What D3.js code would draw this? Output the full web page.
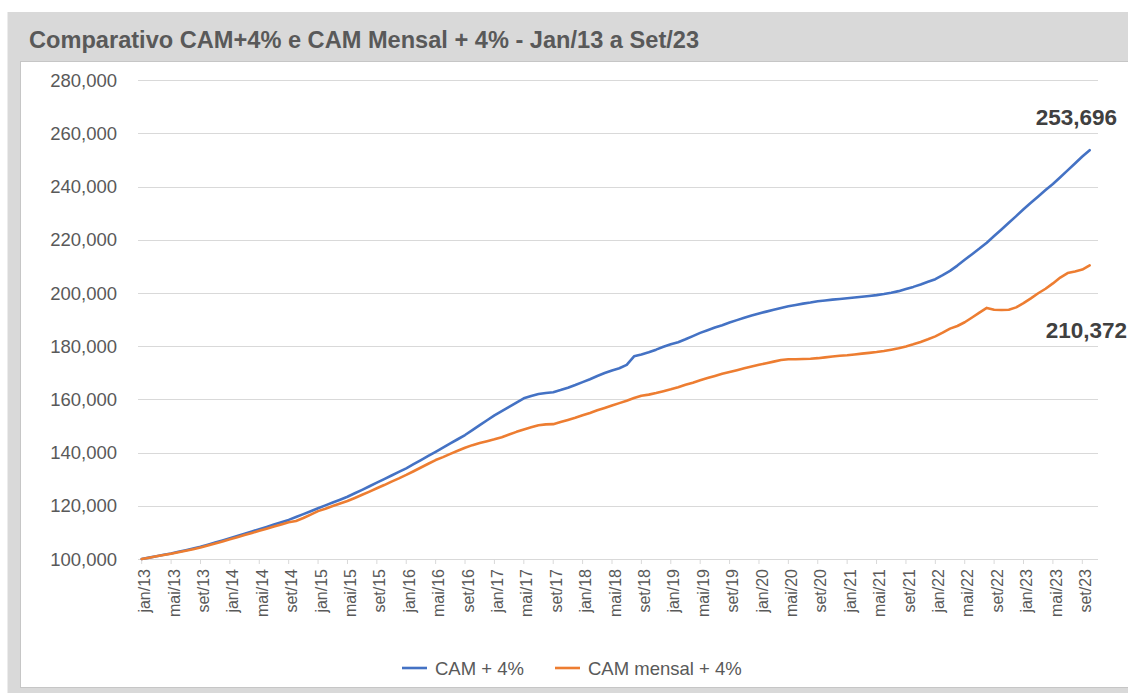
<!DOCTYPE html>
<html>
<head>
<meta charset="utf-8">
<script src="https://cdn.jsdelivr.net/npm/d3@7"></script>
<style>
  html, body { margin: 0; padding: 0; background: #ffffff; }
  svg { display: block; font-family: "Liberation Sans", Arial, sans-serif; }
</style>
</head>
<body>
<svg id="chart" width="1128" height="693"></svg>
<script>
// ---- Data ----
const months = ["jan","fev","mar","abr","mai","jun","jul","ago","set","out","nov","dez"];
const startYear = 13;
const yTicks = [100000, 120000, 140000, 160000, 180000, 200000, 220000, 240000, 260000, 280000];
const seriesNames = ["CAM + 4%", "CAM mensal + 4%"];
const seriesColors = ["#4472C4", "#ED7D31"];

const camValues = [
  // 2013
  100000, 100520, 101050, 101570, 102100, 102700, 103300, 103950, 104600, 105380, 106170, 106980,
  // 2014
  107800, 108640, 109480, 110340, 111200, 112070, 112940, 113820, 114700, 115780, 116870, 117980,
  // 2015
  119100, 120150, 121220, 122300, 123400, 124700, 126000, 127350, 128700, 130030, 131380, 132740,
  // 2016
  134100, 135630, 137170, 138730, 140300, 141870, 143440, 145020, 146600, 148450, 150300, 152150,
  // 2017
  154000, 155600, 157200, 158800, 160400, 161300, 162000, 162400, 162700, 163500, 164400, 165400,
  // 2018
  166500, 167600, 168800, 169900, 170900, 171700, 173000, 176200, 176900, 177700, 178700, 179800,
  // 2019
  180700, 181500, 182600, 183800, 185000, 186000, 187000, 187900, 188900, 189800, 190700, 191500,
  // 2020
  192300, 193000, 193700, 194400, 195000, 195500, 196000, 196400, 196900, 197200, 197500, 197750,
  // 2021
  198000, 198300, 198600, 198900, 199200, 199600, 200100, 200700, 201500, 202300, 203200, 204200,
  // 2022
  205200, 206700, 208300, 210300, 212500, 214600, 216700, 218900, 221400, 223900, 226400, 228900,
  // 2023
  231500, 233900, 236300, 238700, 241000, 243500, 246100, 248700, 251300, 253696
];

const camMensalValues = [
  // 2013
  100000, 100500, 101000, 101500, 102000, 102550, 103120, 103700, 104300, 105050, 105800, 106600,
  // 2014
  107400, 108200, 109000, 109800, 110600, 111400, 112200, 113000, 113800, 114300, 115400, 116700,
  // 2015
  118000, 118900, 119900, 120850, 121800, 122950, 124150, 125350, 126600, 127800, 129100, 130300,
  // 2016
  131600, 133000, 134400, 135800, 137200, 138300, 139500, 140700, 141800, 142800, 143600, 144300,
  // 2017
  145000, 145800, 146800, 147800, 148700, 149500, 150300, 150600, 150700, 151500, 152300, 153100,
  // 2018
  154000, 154900, 155900, 156800, 157700, 158600, 159500, 160500, 161400, 161800, 162400, 163100,
  // 2019
  163800, 164600, 165500, 166300, 167200, 168000, 168800, 169600, 170300, 171000, 171700, 172400,
  // 2020
  173000, 173600, 174200, 174800, 175100, 175100, 175200, 175300, 175500, 175800, 176100, 176400,
  // 2021
  176600, 176900, 177200, 177500, 177800, 178200, 178700, 179200, 179900, 180700, 181600, 182600,
  // 2022
  183700, 185100, 186600, 187600, 189000, 190800, 192600, 194400, 193700, 193600, 193700, 194600,
  // 2023
  196200, 198000, 199900, 201600, 203600, 205800, 207500, 208100, 208800, 210372
];

const endLabels = ["253,696", "210,372"];
const titleText = "Comparativo CAM+4% e CAM Mensal + 4% - Jan/13 a Set/23";

// ---- Chart ----
const svg = d3.select("#chart");
const W = 1128, H = 693;

// frame
svg.append("rect").attr("x", 0).attr("y", 0).attr("width", W).attr("height", H).attr("fill", "#ffffff");
svg.append("rect").attr("x", 7.5).attr("y", 12).attr("width", W - 7.5).attr("height", H - 12).attr("fill", "#d9d9d9");
svg.append("rect").attr("x", 20.5).attr("y", 61.5).attr("width", W - 20).attr("height", 626)
  .attr("fill", "#ffffff").attr("stroke", "#c6c6c6").attr("stroke-width", 1);

svg.append("text").attr("x", 29).attr("y", 48)
  .attr("font-size", 23.6).attr("font-weight", "bold").attr("fill", "#595959")
  .text(titleText);

const nCat = camValues.length; // months of data
const x = d3.scaleLinear().domain([0, 130]).range([141.7, 1097]);
const y = d3.scaleLinear().domain([100000, 280000]).range([559, 80.2]);

const labelOf = i => months[i % 12] + "/" + (startYear + Math.floor(i / 12));
const tickIdx = d3.range(0, nCat, 4);

// gridlines
svg.append("g").selectAll("line").data(yTicks).join("line")
  .attr("x1", 138).attr("x2", 1098)
  .attr("y1", d => Math.round(y(d)) + 0.5).attr("y2", d => Math.round(y(d)) + 0.5)
  .attr("stroke", "#d9d9d9").attr("stroke-width", 1);

// y labels
svg.append("g").selectAll("text").data(yTicks).join("text")
  .attr("x", 117).attr("y", d => y(d)).attr("dy", "0.36em")
  .attr("text-anchor", "end").attr("font-size", 18.5).attr("fill", "#595959")
  .text(d => d3.format(",")(d));

// x tick marks
svg.append("g").selectAll("line").data(tickIdx).join("line")
  .attr("x1", d => x(d)).attr("x2", d => x(d))
  .attr("y1", 559).attr("y2", 564)
  .attr("stroke", "#d9d9d9").attr("stroke-width", 1);

// x labels
svg.append("g").selectAll("text").data(tickIdx).join("text")
  .attr("transform", d => `translate(${x(d) + 3},569) rotate(-90)`)
  .attr("dy", "0.35em").attr("text-anchor", "end")
  .attr("font-size", 16).attr("fill", "#595959")
  .text(d => labelOf(d));

// lines
const line = d3.line().x((d, i) => x(i)).y(d => y(d)).curve(d3.curveLinear);
[camValues, camMensalValues].forEach((vals, k) => {
  svg.append("path").datum(vals).attr("d", line)
    .attr("fill", "none").attr("stroke", seriesColors[k]).attr("stroke-width", 2.6)
    .attr("stroke-linejoin", "round").attr("stroke-linecap", "round");
});

// end labels
svg.append("text").attr("x", 1117).attr("y", 125).attr("text-anchor", "end")
  .attr("font-size", 22.5).attr("font-weight", "bold").attr("fill", "#404040").text(endLabels[0]);
svg.append("text").attr("x", 1127).attr("y", 338).attr("text-anchor", "end")
  .attr("font-size", 22.5).attr("font-weight", "bold").attr("fill", "#404040").text(endLabels[1]);

// legend
const legendX = [402, 555];
seriesNames.forEach((name, k) => {
  svg.append("line").attr("x1", legendX[k]).attr("x2", legendX[k] + 25)
    .attr("y1", 668).attr("y2", 668).attr("stroke", seriesColors[k]).attr("stroke-width", 2.6);
  svg.append("text").attr("x", legendX[k] + 33).attr("y", 668).attr("dy", "0.36em")
    .attr("font-size", 18.5).attr("fill", "#595959").text(name);
});
</script>
</body>
</html>
